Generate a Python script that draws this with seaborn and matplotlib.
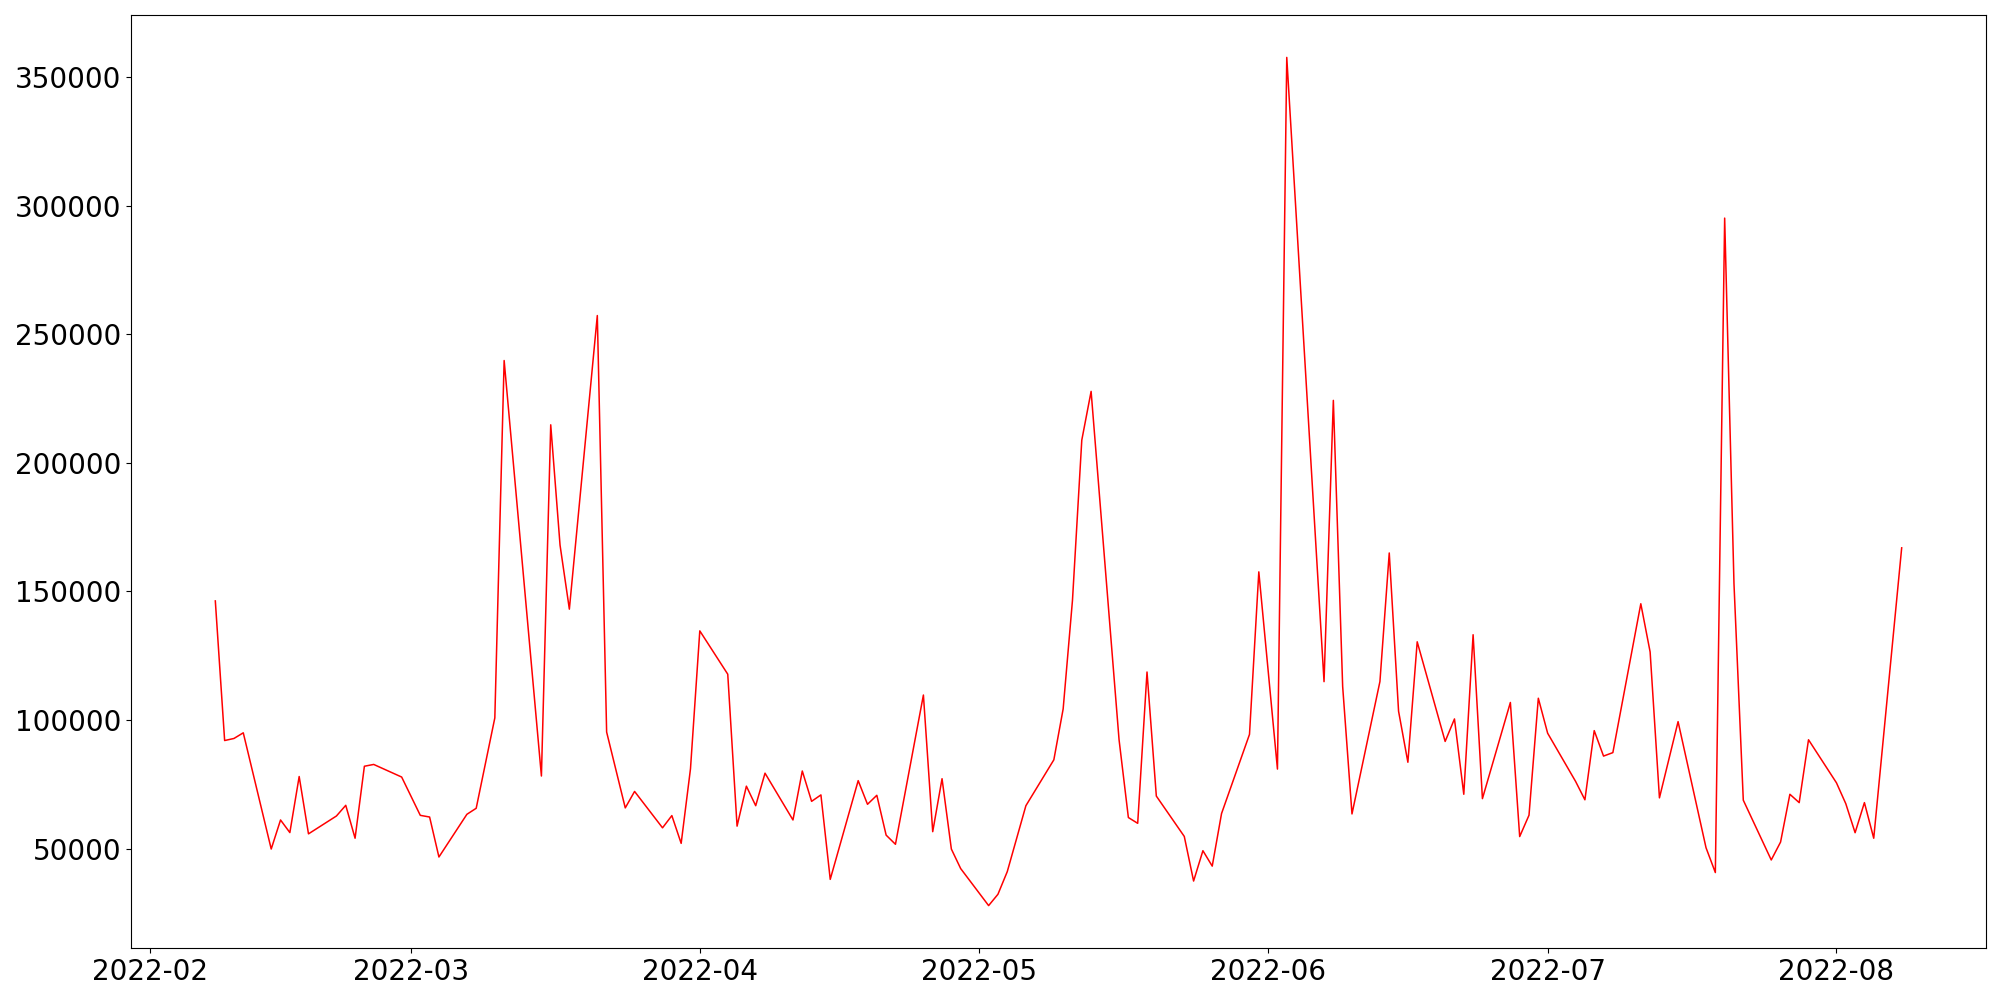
from matplotlib import pyplot as plt
import pandas as pd
import seaborn as sns

dates = [
    '2022-02-08', '2022-02-09', '2022-02-10', '2022-02-11', '2022-02-14', '2022-02-15',
    '2022-02-16', '2022-02-17', '2022-02-18', '2022-02-21', '2022-02-22', '2022-02-23',
    '2022-02-24', '2022-02-25', '2022-02-28', '2022-03-02', '2022-03-03', '2022-03-04',
    '2022-03-07', '2022-03-08', '2022-03-10', '2022-03-11', '2022-03-15', '2022-03-16',
    '2022-03-17', '2022-03-18', '2022-03-21', '2022-03-22', '2022-03-24', '2022-03-25',
    '2022-03-28', '2022-03-29', '2022-03-30', '2022-03-31', '2022-04-01', '2022-04-04',
    '2022-04-05', '2022-04-06', '2022-04-07', '2022-04-08', '2022-04-11', '2022-04-12',
    '2022-04-13', '2022-04-14', '2022-04-15', '2022-04-18', '2022-04-19', '2022-04-20',
    '2022-04-21', '2022-04-22', '2022-04-25', '2022-04-26', '2022-04-27', '2022-04-28',
    '2022-04-29', '2022-05-02', '2022-05-03', '2022-05-04', '2022-05-06', '2022-05-09',
    '2022-05-10', '2022-05-11', '2022-05-12', '2022-05-13', '2022-05-16', '2022-05-17',
    '2022-05-18', '2022-05-19', '2022-05-20', '2022-05-23', '2022-05-24', '2022-05-25',
    '2022-05-26', '2022-05-27', '2022-05-30', '2022-05-31', '2022-06-02', '2022-06-03',
    '2022-06-07', '2022-06-08', '2022-06-09', '2022-06-10', '2022-06-13', '2022-06-14',
    '2022-06-15', '2022-06-16', '2022-06-17', '2022-06-20', '2022-06-21', '2022-06-22',
    '2022-06-23', '2022-06-24', '2022-06-27', '2022-06-28', '2022-06-29', '2022-06-30',
    '2022-07-01', '2022-07-04', '2022-07-05', '2022-07-06', '2022-07-07', '2022-07-08',
    '2022-07-11', '2022-07-12', '2022-07-13', '2022-07-15', '2022-07-18', '2022-07-19',
    '2022-07-20', '2022-07-21', '2022-07-22', '2022-07-25', '2022-07-26', '2022-07-27',
    '2022-07-28', '2022-07-29', '2022-08-01', '2022-08-02', '2022-08-03', '2022-08-04',
    '2022-08-05', '2022-08-08',
]

values = [
    146300, 92000, 92800, 95000, 49800, 61100,
    56200, 78000, 55700, 62650, 66800, 54000,
    82000, 82700, 77800, 62900, 62250, 46700,
    63300, 65650, 100800, 239800, 78200, 214800,
    168000, 143100, 257300, 95300, 65800, 72200,
    58050, 62800, 52000, 81000, 134650, 117800,
    58700, 74250, 66650, 79300, 61100, 80150,
    68350, 70850, 38000, 76400, 67200, 70700,
    55200, 51650, 109700, 56550, 77150, 49800,
    42200, 27800, 32200, 41000, 66650, 84500,
    104300, 146550, 208850, 227800, 92300, 62050,
    59800, 118650, 70400, 54700, 37350, 49150,
    43150, 63600, 94400, 157600, 80900, 357700,
    114900, 224300, 113000, 63450, 114950, 164950,
    103400, 83550, 130400, 91650, 100400, 71100,
    133150, 69400, 106800, 54650, 62950, 108450,
    94850, 76100, 68950, 95850, 85950, 87300,
    145200, 126450, 69700, 99350, 50300, 40650,
    295200, 153000, 68800, 45550, 52500, 71100,
    67850, 92300, 75550, 67450, 56150, 67850,
    54000, 166950,
]

df = pd.DataFrame({'date': pd.to_datetime(dates), 'value': values})

fig, ax = plt.subplots(figsize=(20, 10), dpi=100)
fig.subplots_adjust(left=0.0655, right=0.993, top=0.985, bottom=0.052)
sns.lineplot(x='date', y='value', data=df, color='red', linewidth=1.1, ax=ax)
ax.set_xlabel('')
ax.set_ylabel('')
ax.tick_params(labelsize=20)
fig.savefig('out.png')
